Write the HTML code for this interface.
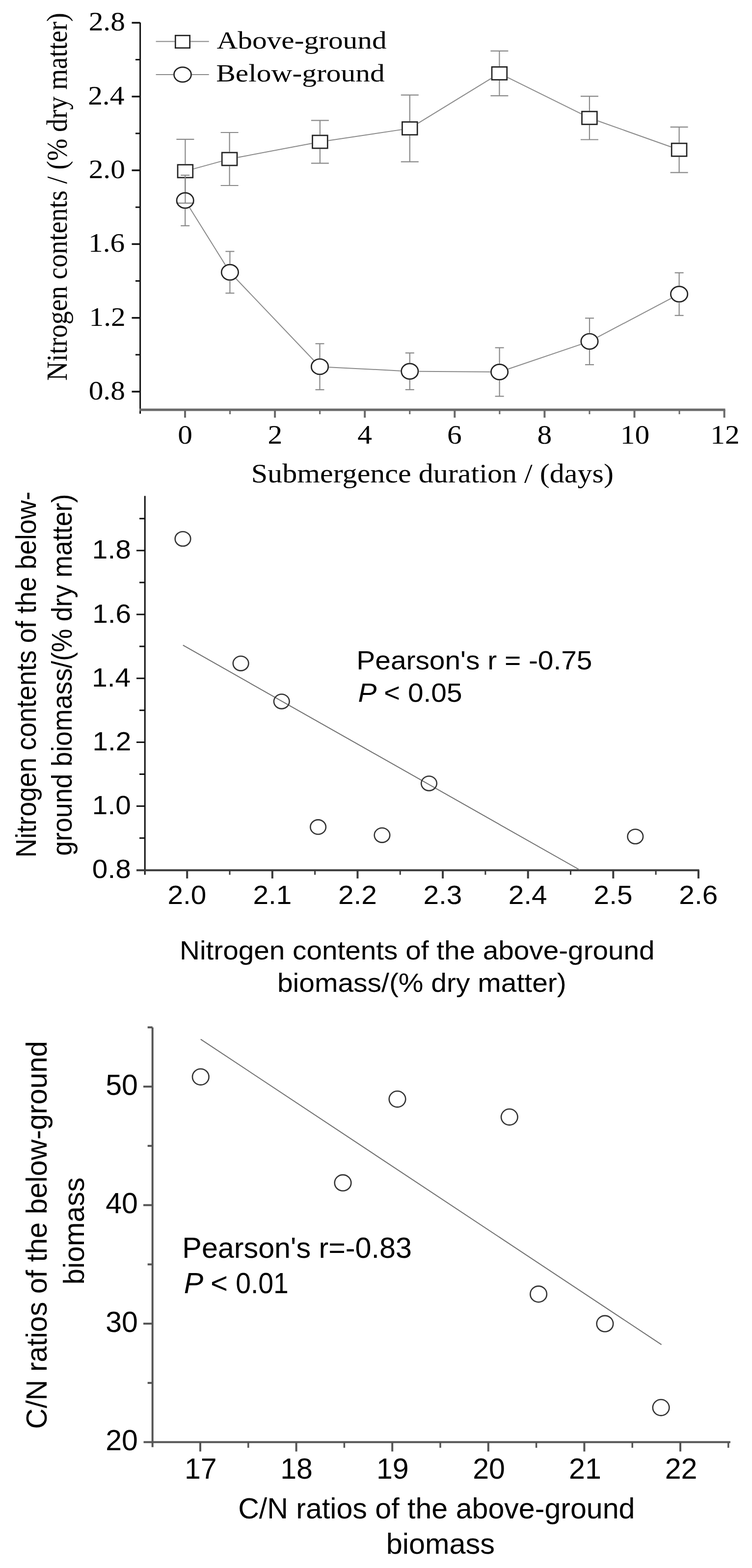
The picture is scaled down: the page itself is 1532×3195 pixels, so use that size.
<!DOCTYPE html>
<html><head><meta charset="utf-8"><title>Nitrogen contents figure</title>
<style>html,body{margin:0;padding:0;background:#fff;} svg{display:block;} text{fill:#000;}</style>
</head><body>
<svg width="1532" height="3195" viewBox="0 0 1532 3195">
<rect width="1532" height="3195" fill="#fff"/>
<line x1="285.60" y1="46.00" x2="285.60" y2="843.00" stroke="#111" stroke-width="3"/>
<line x1="284.10" y1="835.00" x2="1477.50" y2="835.00" stroke="#6a6a6a" stroke-width="5"/>
<line x1="268.50" y1="46.40" x2="285.60" y2="46.40" stroke="#111" stroke-width="3.5"/>
<text transform="translate(180.63,62.40) scale(1.1000,1)" style="font-family:'Liberation Serif', serif;font-size:54px">2.8</text>
<line x1="268.50" y1="196.72" x2="285.60" y2="196.72" stroke="#111" stroke-width="3.5"/>
<text transform="translate(179.14,212.72) scale(1.1000,1)" style="font-family:'Liberation Serif', serif;font-size:54px">2.4</text>
<line x1="268.50" y1="347.04" x2="285.60" y2="347.04" stroke="#111" stroke-width="3.5"/>
<text transform="translate(180.63,363.04) scale(1.1000,1)" style="font-family:'Liberation Serif', serif;font-size:54px">2.0</text>
<line x1="268.50" y1="497.36" x2="285.60" y2="497.36" stroke="#111" stroke-width="3.5"/>
<text transform="translate(180.03,513.36) scale(1.1000,1)" style="font-family:'Liberation Serif', serif;font-size:54px">1.6</text>
<line x1="268.50" y1="647.68" x2="285.60" y2="647.68" stroke="#111" stroke-width="3.5"/>
<text transform="translate(181.52,663.68) scale(1.1000,1)" style="font-family:'Liberation Serif', serif;font-size:54px">1.2</text>
<line x1="268.50" y1="798.00" x2="285.60" y2="798.00" stroke="#111" stroke-width="3.5"/>
<text transform="translate(180.63,814.00) scale(1.1000,1)" style="font-family:'Liberation Serif', serif;font-size:54px">0.8</text>
<line x1="276.00" y1="121.56" x2="285.60" y2="121.56" stroke="#111" stroke-width="3"/>
<line x1="276.00" y1="271.88" x2="285.60" y2="271.88" stroke="#111" stroke-width="3"/>
<line x1="276.00" y1="422.20" x2="285.60" y2="422.20" stroke="#111" stroke-width="3"/>
<line x1="276.00" y1="572.52" x2="285.60" y2="572.52" stroke="#111" stroke-width="3"/>
<line x1="276.00" y1="722.84" x2="285.60" y2="722.84" stroke="#111" stroke-width="3"/>
<line x1="377.00" y1="835.00" x2="377.00" y2="851.00" stroke="#6a6a6a" stroke-width="4"/>
<text transform="translate(362.15,904.00) scale(1.1000,1)" style="font-family:'Liberation Serif', serif;font-size:54px">0</text>
<line x1="468.55" y1="835.00" x2="468.55" y2="844.00" stroke="#6a6a6a" stroke-width="3"/>
<line x1="560.10" y1="835.00" x2="560.10" y2="851.00" stroke="#6a6a6a" stroke-width="4"/>
<text transform="translate(545.55,904.00) scale(1.1000,1)" style="font-family:'Liberation Serif', serif;font-size:54px">2</text>
<line x1="651.65" y1="835.00" x2="651.65" y2="844.00" stroke="#6a6a6a" stroke-width="3"/>
<line x1="743.20" y1="835.00" x2="743.20" y2="851.00" stroke="#6a6a6a" stroke-width="4"/>
<text transform="translate(728.20,904.00) scale(1.1000,1)" style="font-family:'Liberation Serif', serif;font-size:54px">4</text>
<line x1="834.75" y1="835.00" x2="834.75" y2="844.00" stroke="#6a6a6a" stroke-width="3"/>
<line x1="926.30" y1="835.00" x2="926.30" y2="851.00" stroke="#6a6a6a" stroke-width="4"/>
<text transform="translate(911.00,904.00) scale(1.1000,1)" style="font-family:'Liberation Serif', serif;font-size:54px">6</text>
<line x1="1017.85" y1="835.00" x2="1017.85" y2="844.00" stroke="#6a6a6a" stroke-width="3"/>
<line x1="1109.40" y1="835.00" x2="1109.40" y2="851.00" stroke="#6a6a6a" stroke-width="4"/>
<text transform="translate(1094.55,904.00) scale(1.1000,1)" style="font-family:'Liberation Serif', serif;font-size:54px">8</text>
<line x1="1200.95" y1="835.00" x2="1200.95" y2="844.00" stroke="#6a6a6a" stroke-width="3"/>
<line x1="1292.50" y1="835.00" x2="1292.50" y2="851.00" stroke="#6a6a6a" stroke-width="4"/>
<text transform="translate(1263.82,904.00) scale(1.1000,1)" style="font-family:'Liberation Serif', serif;font-size:54px">10</text>
<line x1="1384.05" y1="835.00" x2="1384.05" y2="844.00" stroke="#6a6a6a" stroke-width="3"/>
<line x1="1475.60" y1="835.00" x2="1475.60" y2="851.00" stroke="#6a6a6a" stroke-width="4"/>
<text transform="translate(1447.36,904.00) scale(1.1000,1)" style="font-family:'Liberation Serif', serif;font-size:54px">12</text>
<text transform="translate(511.69,983.00) scale(1.1134,1)" style="font-family:'Liberation Serif', serif;font-size:54px">Submergence duration / (days)</text>
<text transform="translate(136.00,775.83) scale(1.1000,1.0064) rotate(-90)" style="font-family:'Liberation Serif', serif;font-size:54px">Nitrogen contents / (% dry matter)</text>
<line x1="394.30" y1="344.15" x2="450.70" y2="328.65" stroke="#8a8a8a" stroke-width="2.0"/>
<line x1="484.50" y1="320.79" x2="635.00" y2="292.21" stroke="#8a8a8a" stroke-width="2.0"/>
<line x1="668.80" y1="286.47" x2="817.90" y2="264.13" stroke="#8a8a8a" stroke-width="2.0"/>
<line x1="851.70" y1="251.22" x2="1000.50" y2="159.88" stroke="#8a8a8a" stroke-width="2.0"/>
<line x1="1034.30" y1="157.86" x2="1184.00" y2="231.94" stroke="#8a8a8a" stroke-width="2.0"/>
<line x1="1217.80" y1="246.30" x2="1366.70" y2="299.20" stroke="#8a8a8a" stroke-width="2.0"/>
<line x1="377.40" y1="334.20" x2="377.40" y2="283.80" stroke="#8a8a8a" stroke-width="2.2"/>
<line x1="377.40" y1="363.40" x2="377.40" y2="413.80" stroke="#8a8a8a" stroke-width="2.2"/>
<line x1="359.40" y1="283.80" x2="395.40" y2="283.80" stroke="#8a8a8a" stroke-width="2.2"/>
<line x1="359.40" y1="413.80" x2="395.40" y2="413.80" stroke="#8a8a8a" stroke-width="2.2"/>
<line x1="467.60" y1="309.40" x2="467.60" y2="270.00" stroke="#8a8a8a" stroke-width="2.2"/>
<line x1="467.60" y1="338.60" x2="467.60" y2="378.00" stroke="#8a8a8a" stroke-width="2.2"/>
<line x1="449.60" y1="270.00" x2="485.60" y2="270.00" stroke="#8a8a8a" stroke-width="2.2"/>
<line x1="449.60" y1="378.00" x2="485.60" y2="378.00" stroke="#8a8a8a" stroke-width="2.2"/>
<line x1="651.90" y1="274.40" x2="651.90" y2="245.30" stroke="#8a8a8a" stroke-width="2.2"/>
<line x1="651.90" y1="303.60" x2="651.90" y2="332.70" stroke="#8a8a8a" stroke-width="2.2"/>
<line x1="633.90" y1="245.30" x2="669.90" y2="245.30" stroke="#8a8a8a" stroke-width="2.2"/>
<line x1="633.90" y1="332.70" x2="669.90" y2="332.70" stroke="#8a8a8a" stroke-width="2.2"/>
<line x1="834.80" y1="247.00" x2="834.80" y2="193.60" stroke="#8a8a8a" stroke-width="2.2"/>
<line x1="834.80" y1="276.20" x2="834.80" y2="329.60" stroke="#8a8a8a" stroke-width="2.2"/>
<line x1="816.80" y1="193.60" x2="852.80" y2="193.60" stroke="#8a8a8a" stroke-width="2.2"/>
<line x1="816.80" y1="329.60" x2="852.80" y2="329.60" stroke="#8a8a8a" stroke-width="2.2"/>
<line x1="1017.40" y1="134.90" x2="1017.40" y2="103.90" stroke="#8a8a8a" stroke-width="2.2"/>
<line x1="1017.40" y1="164.10" x2="1017.40" y2="195.10" stroke="#8a8a8a" stroke-width="2.2"/>
<line x1="999.40" y1="103.90" x2="1035.40" y2="103.90" stroke="#8a8a8a" stroke-width="2.2"/>
<line x1="999.40" y1="195.10" x2="1035.40" y2="195.10" stroke="#8a8a8a" stroke-width="2.2"/>
<line x1="1200.90" y1="225.70" x2="1200.90" y2="196.10" stroke="#8a8a8a" stroke-width="2.2"/>
<line x1="1200.90" y1="254.90" x2="1200.90" y2="284.50" stroke="#8a8a8a" stroke-width="2.2"/>
<line x1="1182.90" y1="196.10" x2="1218.90" y2="196.10" stroke="#8a8a8a" stroke-width="2.2"/>
<line x1="1182.90" y1="284.50" x2="1218.90" y2="284.50" stroke="#8a8a8a" stroke-width="2.2"/>
<line x1="1383.60" y1="290.60" x2="1383.60" y2="258.80" stroke="#8a8a8a" stroke-width="2.2"/>
<line x1="1383.60" y1="319.80" x2="1383.60" y2="351.60" stroke="#8a8a8a" stroke-width="2.2"/>
<line x1="1365.60" y1="258.80" x2="1401.60" y2="258.80" stroke="#8a8a8a" stroke-width="2.2"/>
<line x1="1365.60" y1="351.60" x2="1401.60" y2="351.60" stroke="#8a8a8a" stroke-width="2.2"/>
<rect x="362.00" y="335.70" width="30.80" height="26.20" fill="none" stroke="#222" stroke-width="2.7"/>
<rect x="452.20" y="310.90" width="30.80" height="26.20" fill="none" stroke="#222" stroke-width="2.7"/>
<rect x="636.50" y="275.90" width="30.80" height="26.20" fill="none" stroke="#222" stroke-width="2.7"/>
<rect x="819.40" y="248.50" width="30.80" height="26.20" fill="none" stroke="#222" stroke-width="2.7"/>
<rect x="1002.00" y="136.40" width="30.80" height="26.20" fill="none" stroke="#222" stroke-width="2.7"/>
<rect x="1185.50" y="227.20" width="30.80" height="26.20" fill="none" stroke="#222" stroke-width="2.7"/>
<rect x="1368.20" y="292.10" width="30.80" height="26.20" fill="none" stroke="#222" stroke-width="2.7"/>
<line x1="386.50" y1="423.42" x2="459.10" y2="539.88" stroke="#8a8a8a" stroke-width="2.0"/>
<line x1="480.72" y1="567.74" x2="639.18" y2="734.26" stroke="#8a8a8a" stroke-width="2.0"/>
<line x1="670.17" y1="748.16" x2="816.13" y2="755.64" stroke="#8a8a8a" stroke-width="2.0"/>
<line x1="853.50" y1="756.74" x2="998.90" y2="757.86" stroke="#8a8a8a" stroke-width="2.0"/>
<line x1="1035.14" y1="752.04" x2="1183.46" y2="701.66" stroke="#8a8a8a" stroke-width="2.0"/>
<line x1="1217.22" y1="687.14" x2="1367.38" y2="607.86" stroke="#8a8a8a" stroke-width="2.0"/>
<line x1="377.20" y1="391.30" x2="377.20" y2="357.00" stroke="#8a8a8a" stroke-width="2.2"/>
<line x1="377.20" y1="425.70" x2="377.20" y2="460.00" stroke="#8a8a8a" stroke-width="2.2"/>
<line x1="368.20" y1="357.00" x2="386.20" y2="357.00" stroke="#8a8a8a" stroke-width="2.2"/>
<line x1="368.20" y1="460.00" x2="386.20" y2="460.00" stroke="#8a8a8a" stroke-width="2.2"/>
<line x1="468.40" y1="537.60" x2="468.40" y2="512.30" stroke="#8a8a8a" stroke-width="2.2"/>
<line x1="468.40" y1="572.00" x2="468.40" y2="597.30" stroke="#8a8a8a" stroke-width="2.2"/>
<line x1="459.40" y1="512.30" x2="477.40" y2="512.30" stroke="#8a8a8a" stroke-width="2.2"/>
<line x1="459.40" y1="597.30" x2="477.40" y2="597.30" stroke="#8a8a8a" stroke-width="2.2"/>
<line x1="651.50" y1="730.00" x2="651.50" y2="700.30" stroke="#8a8a8a" stroke-width="2.2"/>
<line x1="651.50" y1="764.40" x2="651.50" y2="794.10" stroke="#8a8a8a" stroke-width="2.2"/>
<line x1="642.50" y1="700.30" x2="660.50" y2="700.30" stroke="#8a8a8a" stroke-width="2.2"/>
<line x1="642.50" y1="794.10" x2="660.50" y2="794.10" stroke="#8a8a8a" stroke-width="2.2"/>
<line x1="834.80" y1="739.40" x2="834.80" y2="719.20" stroke="#8a8a8a" stroke-width="2.2"/>
<line x1="834.80" y1="773.80" x2="834.80" y2="794.00" stroke="#8a8a8a" stroke-width="2.2"/>
<line x1="825.80" y1="719.20" x2="843.80" y2="719.20" stroke="#8a8a8a" stroke-width="2.2"/>
<line x1="825.80" y1="794.00" x2="843.80" y2="794.00" stroke="#8a8a8a" stroke-width="2.2"/>
<line x1="1017.60" y1="740.80" x2="1017.60" y2="708.50" stroke="#8a8a8a" stroke-width="2.2"/>
<line x1="1017.60" y1="775.20" x2="1017.60" y2="807.50" stroke="#8a8a8a" stroke-width="2.2"/>
<line x1="1008.60" y1="708.50" x2="1026.60" y2="708.50" stroke="#8a8a8a" stroke-width="2.2"/>
<line x1="1008.60" y1="807.50" x2="1026.60" y2="807.50" stroke="#8a8a8a" stroke-width="2.2"/>
<line x1="1201.00" y1="678.50" x2="1201.00" y2="648.30" stroke="#8a8a8a" stroke-width="2.2"/>
<line x1="1201.00" y1="712.90" x2="1201.00" y2="743.10" stroke="#8a8a8a" stroke-width="2.2"/>
<line x1="1192.00" y1="648.30" x2="1210.00" y2="648.30" stroke="#8a8a8a" stroke-width="2.2"/>
<line x1="1192.00" y1="743.10" x2="1210.00" y2="743.10" stroke="#8a8a8a" stroke-width="2.2"/>
<line x1="1383.60" y1="582.10" x2="1383.60" y2="555.80" stroke="#8a8a8a" stroke-width="2.2"/>
<line x1="1383.60" y1="616.50" x2="1383.60" y2="642.80" stroke="#8a8a8a" stroke-width="2.2"/>
<line x1="1374.60" y1="555.80" x2="1392.60" y2="555.80" stroke="#8a8a8a" stroke-width="2.2"/>
<line x1="1374.60" y1="642.80" x2="1392.60" y2="642.80" stroke="#8a8a8a" stroke-width="2.2"/>
<ellipse cx="377.20" cy="408.50" rx="17.20" ry="15.70" fill="none" stroke="#222" stroke-width="2.7"/>
<ellipse cx="468.40" cy="554.80" rx="17.20" ry="15.70" fill="none" stroke="#222" stroke-width="2.7"/>
<ellipse cx="651.50" cy="747.20" rx="17.20" ry="15.70" fill="none" stroke="#222" stroke-width="2.7"/>
<ellipse cx="834.80" cy="756.60" rx="17.20" ry="15.70" fill="none" stroke="#222" stroke-width="2.7"/>
<ellipse cx="1017.60" cy="758.00" rx="17.20" ry="15.70" fill="none" stroke="#222" stroke-width="2.7"/>
<ellipse cx="1201.00" cy="695.70" rx="17.20" ry="15.70" fill="none" stroke="#222" stroke-width="2.7"/>
<ellipse cx="1383.60" cy="599.30" rx="17.20" ry="15.70" fill="none" stroke="#222" stroke-width="2.7"/>
<line x1="317.60" y1="84.50" x2="355.80" y2="84.50" stroke="#8a8a8a" stroke-width="2.2"/>
<line x1="388.20" y1="84.50" x2="425.70" y2="84.50" stroke="#8a8a8a" stroke-width="2.2"/>
<rect x="357.30" y="72.30" width="29.40" height="25.40" fill="none" stroke="#222" stroke-width="2.7"/>
<line x1="317.60" y1="152.00" x2="353.00" y2="152.00" stroke="#8a8a8a" stroke-width="2.2"/>
<line x1="391.00" y1="152.00" x2="425.70" y2="152.00" stroke="#8a8a8a" stroke-width="2.2"/>
<ellipse cx="372" cy="152" rx="17.50" ry="15.10" fill="none" stroke="#222" stroke-width="2.7"/>
<text transform="translate(441.41,99.00) scale(1.1530,1)" style="font-family:'Liberation Serif', serif;font-size:51.5px">Above-ground</text>
<text transform="translate(440.22,166.20) scale(1.1546,1)" style="font-family:'Liberation Serif', serif;font-size:51.5px">Below-ground</text>
<line x1="295.20" y1="1010.60" x2="295.20" y2="1782.50" stroke="#111" stroke-width="3"/>
<line x1="278.00" y1="1773.30" x2="1424.50" y2="1773.30" stroke="#3a3a3a" stroke-width="4"/>
<text transform="translate(187.85,1789.30) scale(1.0500,1)" style="font-family:'Liberation Sans', sans-serif;font-size:54px">0.8</text>
<line x1="278.00" y1="1642.60" x2="295.20" y2="1642.60" stroke="#111" stroke-width="3"/>
<text transform="translate(187.85,1659.10) scale(1.0500,1)" style="font-family:'Liberation Sans', sans-serif;font-size:54px">1.0</text>
<line x1="278.00" y1="1512.40" x2="295.20" y2="1512.40" stroke="#111" stroke-width="3"/>
<text transform="translate(188.42,1528.90) scale(1.0500,1)" style="font-family:'Liberation Sans', sans-serif;font-size:54px">1.2</text>
<line x1="278.00" y1="1382.20" x2="295.20" y2="1382.20" stroke="#111" stroke-width="3"/>
<text transform="translate(187.29,1398.70) scale(1.0500,1)" style="font-family:'Liberation Sans', sans-serif;font-size:54px">1.4</text>
<line x1="278.00" y1="1252.00" x2="295.20" y2="1252.00" stroke="#111" stroke-width="3"/>
<text transform="translate(188.14,1268.50) scale(1.0500,1)" style="font-family:'Liberation Sans', sans-serif;font-size:54px">1.6</text>
<line x1="278.00" y1="1121.80" x2="295.20" y2="1121.80" stroke="#111" stroke-width="3"/>
<text transform="translate(187.85,1138.30) scale(1.0500,1)" style="font-family:'Liberation Sans', sans-serif;font-size:54px">1.8</text>
<line x1="284.00" y1="1707.70" x2="295.20" y2="1707.70" stroke="#111" stroke-width="3"/>
<line x1="284.00" y1="1577.50" x2="295.20" y2="1577.50" stroke="#111" stroke-width="3"/>
<line x1="284.00" y1="1447.30" x2="295.20" y2="1447.30" stroke="#111" stroke-width="3"/>
<line x1="284.00" y1="1317.10" x2="295.20" y2="1317.10" stroke="#111" stroke-width="3"/>
<line x1="284.00" y1="1186.90" x2="295.20" y2="1186.90" stroke="#111" stroke-width="3"/>
<line x1="284.00" y1="1056.70" x2="295.20" y2="1056.70" stroke="#111" stroke-width="3"/>
<line x1="381.20" y1="1773.30" x2="381.20" y2="1790.00" stroke="#3a3a3a" stroke-width="4"/>
<text transform="translate(341.51,1842.00) scale(1.0500,1)" style="font-family:'Liberation Sans', sans-serif;font-size:54px">2.0</text>
<line x1="554.82" y1="1773.30" x2="554.82" y2="1790.00" stroke="#3a3a3a" stroke-width="4"/>
<text transform="translate(515.41,1842.00) scale(1.0500,1)" style="font-family:'Liberation Sans', sans-serif;font-size:54px">2.1</text>
<line x1="728.44" y1="1773.30" x2="728.44" y2="1790.00" stroke="#3a3a3a" stroke-width="4"/>
<text transform="translate(689.03,1842.00) scale(1.0500,1)" style="font-family:'Liberation Sans', sans-serif;font-size:54px">2.2</text>
<line x1="902.06" y1="1773.30" x2="902.06" y2="1790.00" stroke="#3a3a3a" stroke-width="4"/>
<text transform="translate(862.51,1842.00) scale(1.0500,1)" style="font-family:'Liberation Sans', sans-serif;font-size:54px">2.3</text>
<line x1="1075.68" y1="1773.30" x2="1075.68" y2="1790.00" stroke="#3a3a3a" stroke-width="4"/>
<text transform="translate(1035.71,1842.00) scale(1.0500,1)" style="font-family:'Liberation Sans', sans-serif;font-size:54px">2.4</text>
<line x1="1249.30" y1="1773.30" x2="1249.30" y2="1790.00" stroke="#3a3a3a" stroke-width="4"/>
<text transform="translate(1209.61,1842.00) scale(1.0500,1)" style="font-family:'Liberation Sans', sans-serif;font-size:54px">2.5</text>
<line x1="1422.92" y1="1773.30" x2="1422.92" y2="1790.00" stroke="#3a3a3a" stroke-width="4"/>
<text transform="translate(1383.37,1842.00) scale(1.0500,1)" style="font-family:'Liberation Sans', sans-serif;font-size:54px">2.6</text>
<line x1="468.01" y1="1773.30" x2="468.01" y2="1782.50" stroke="#3a3a3a" stroke-width="3"/>
<line x1="641.63" y1="1773.30" x2="641.63" y2="1782.50" stroke="#3a3a3a" stroke-width="3"/>
<line x1="815.25" y1="1773.30" x2="815.25" y2="1782.50" stroke="#3a3a3a" stroke-width="3"/>
<line x1="988.87" y1="1773.30" x2="988.87" y2="1782.50" stroke="#3a3a3a" stroke-width="3"/>
<line x1="1162.49" y1="1773.30" x2="1162.49" y2="1782.50" stroke="#3a3a3a" stroke-width="3"/>
<line x1="1336.11" y1="1773.30" x2="1336.11" y2="1782.50" stroke="#3a3a3a" stroke-width="3"/>
<text transform="translate(366.06,1955.30) scale(1.0500,1)" style="font-family:'Liberation Sans', sans-serif;font-size:54px">Nitrogen contents of the above-ground</text>
<text transform="translate(564.90,2021.00) scale(1.0554,1)" style="font-family:'Liberation Sans', sans-serif;font-size:54px">biomass/(% dry matter)</text>
<text transform="translate(72.60,1747.61) scale(1.0500,0.9985) rotate(-90)" style="font-family:'Liberation Sans', sans-serif;font-size:54px">Nitrogen contents of the below-</text>
<text transform="translate(145.50,1743.85) scale(1.0500,0.9946) rotate(-90)" style="font-family:'Liberation Sans', sans-serif;font-size:54px">ground biomass/(% dry matter)</text>
<line x1="372.80" y1="1314.70" x2="1181.00" y2="1772.50" stroke="#6e6e6e" stroke-width="2"/>
<ellipse cx="372.5" cy="1098" rx="15.8" ry="14.8" fill="none" stroke="#333" stroke-width="2.6"/>
<ellipse cx="490.6" cy="1351.8" rx="15.8" ry="14.8" fill="none" stroke="#333" stroke-width="2.6"/>
<ellipse cx="573.7" cy="1429.3" rx="15.8" ry="14.8" fill="none" stroke="#333" stroke-width="2.6"/>
<ellipse cx="648.1" cy="1685.2" rx="15.8" ry="14.8" fill="none" stroke="#333" stroke-width="2.6"/>
<ellipse cx="778.4" cy="1701.8" rx="15.8" ry="14.8" fill="none" stroke="#333" stroke-width="2.6"/>
<ellipse cx="874" cy="1596.3" rx="15.8" ry="14.8" fill="none" stroke="#333" stroke-width="2.6"/>
<ellipse cx="1294.3" cy="1704.5" rx="15.8" ry="14.8" fill="none" stroke="#333" stroke-width="2.6"/>
<text transform="translate(726.35,1364.40) scale(1.0531,1)" style="font-family:'Liberation Sans', sans-serif;font-size:54px">Pearson's r = -0.75</text>
<text transform="translate(729.60,1429.60) scale(1.0500,1)" style="font-family:'Liberation Sans', sans-serif;font-size:54px;font-style:italic">P</text>
<text transform="translate(782.30,1429.60) scale(1.0386,1)" style="font-family:'Liberation Sans', sans-serif;font-size:54px">&lt;</text>
<text transform="translate(831.03,1429.60) scale(1.0515,1)" style="font-family:'Liberation Sans', sans-serif;font-size:54px">0.05</text>
<line x1="310.70" y1="2093.50" x2="310.70" y2="2948.70" stroke="#555" stroke-width="4"/>
<line x1="292.50" y1="2938.60" x2="1488.00" y2="2938.60" stroke="#555" stroke-width="4"/>
<text transform="translate(215.18,2955.40) scale(1.0100,1)" style="font-family:'Liberation Sans', sans-serif;font-size:58.5px">20</text>
<line x1="292.00" y1="2697.10" x2="310.70" y2="2697.10" stroke="#555" stroke-width="4"/>
<text transform="translate(215.18,2713.90) scale(1.0100,1)" style="font-family:'Liberation Sans', sans-serif;font-size:58.5px">30</text>
<line x1="292.00" y1="2455.60" x2="310.70" y2="2455.60" stroke="#555" stroke-width="4"/>
<text transform="translate(215.18,2472.40) scale(1.0100,1)" style="font-family:'Liberation Sans', sans-serif;font-size:58.5px">40</text>
<line x1="292.00" y1="2214.10" x2="310.70" y2="2214.10" stroke="#555" stroke-width="4"/>
<text transform="translate(215.18,2230.90) scale(1.0100,1)" style="font-family:'Liberation Sans', sans-serif;font-size:58.5px">50</text>
<line x1="300.70" y1="2817.85" x2="310.70" y2="2817.85" stroke="#555" stroke-width="4"/>
<line x1="300.70" y1="2576.35" x2="310.70" y2="2576.35" stroke="#555" stroke-width="4"/>
<line x1="300.70" y1="2334.85" x2="310.70" y2="2334.85" stroke="#555" stroke-width="4"/>
<line x1="300.70" y1="2093.35" x2="310.70" y2="2093.35" stroke="#555" stroke-width="4"/>
<line x1="408.00" y1="2938.60" x2="408.00" y2="2957.60" stroke="#555" stroke-width="4"/>
<text transform="translate(375.97,3013.20) scale(1.0100,1)" style="font-family:'Liberation Sans', sans-serif;font-size:58.5px">17</text>
<line x1="603.60" y1="2938.60" x2="603.60" y2="2957.60" stroke="#555" stroke-width="4"/>
<text transform="translate(571.27,3013.20) scale(1.0100,1)" style="font-family:'Liberation Sans', sans-serif;font-size:58.5px">18</text>
<line x1="799.20" y1="2938.60" x2="799.20" y2="2957.60" stroke="#555" stroke-width="4"/>
<text transform="translate(767.02,3013.20) scale(1.0100,1)" style="font-family:'Liberation Sans', sans-serif;font-size:58.5px">19</text>
<line x1="994.80" y1="2938.60" x2="994.80" y2="2957.60" stroke="#555" stroke-width="4"/>
<text transform="translate(963.21,3013.20) scale(1.0100,1)" style="font-family:'Liberation Sans', sans-serif;font-size:58.5px">20</text>
<line x1="1190.40" y1="2938.60" x2="1190.40" y2="2957.60" stroke="#555" stroke-width="4"/>
<text transform="translate(1159.11,3013.20) scale(1.0100,1)" style="font-family:'Liberation Sans', sans-serif;font-size:58.5px">21</text>
<line x1="1386.00" y1="2938.60" x2="1386.00" y2="2957.60" stroke="#555" stroke-width="4"/>
<text transform="translate(1354.71,3013.20) scale(1.0100,1)" style="font-family:'Liberation Sans', sans-serif;font-size:58.5px">22</text>
<line x1="505.80" y1="2938.60" x2="505.80" y2="2950.00" stroke="#555" stroke-width="3.5"/>
<line x1="701.40" y1="2938.60" x2="701.40" y2="2950.00" stroke="#555" stroke-width="3.5"/>
<line x1="897.00" y1="2938.60" x2="897.00" y2="2950.00" stroke="#555" stroke-width="3.5"/>
<line x1="1092.60" y1="2938.60" x2="1092.60" y2="2950.00" stroke="#555" stroke-width="3.5"/>
<line x1="1288.20" y1="2938.60" x2="1288.20" y2="2950.00" stroke="#555" stroke-width="3.5"/>
<line x1="1483.80" y1="2938.60" x2="1483.80" y2="2950.00" stroke="#555" stroke-width="3.5"/>
<text transform="translate(485.14,3094.10) scale(1.0109,1)" style="font-family:'Liberation Sans', sans-serif;font-size:58.5px">C/N ratios of the above-ground</text>
<text transform="translate(786.84,3165.60) scale(1.0153,1)" style="font-family:'Liberation Sans', sans-serif;font-size:58.5px">biomass</text>
<text transform="translate(94.90,2911.72) scale(1.0100,0.9968) rotate(-90)" style="font-family:'Liberation Sans', sans-serif;font-size:58.5px">C/N ratios of the below-ground</text>
<text transform="translate(171.00,2617.41) scale(1.0100,1.0016) rotate(-90)" style="font-family:'Liberation Sans', sans-serif;font-size:58.5px">biomass</text>
<line x1="408.80" y1="2117.60" x2="1347.60" y2="2739.80" stroke="#6e6e6e" stroke-width="2"/>
<ellipse cx="408.8" cy="2194.3" rx="16.8" ry="16.3" fill="none" stroke="#333" stroke-width="2.6"/>
<ellipse cx="698.5" cy="2410.2" rx="16.8" ry="16.3" fill="none" stroke="#333" stroke-width="2.6"/>
<ellipse cx="809.5" cy="2239.6" rx="16.8" ry="16.3" fill="none" stroke="#333" stroke-width="2.6"/>
<ellipse cx="1037.8" cy="2276.1" rx="16.8" ry="16.3" fill="none" stroke="#333" stroke-width="2.6"/>
<ellipse cx="1097.1" cy="2636.9" rx="16.8" ry="16.3" fill="none" stroke="#333" stroke-width="2.6"/>
<ellipse cx="1232.4" cy="2697.2" rx="16.8" ry="16.3" fill="none" stroke="#333" stroke-width="2.6"/>
<ellipse cx="1346.6" cy="2868.1" rx="16.8" ry="16.3" fill="none" stroke="#333" stroke-width="2.6"/>
<text transform="translate(371.36,2563.40) scale(1.0131,1)" style="font-family:'Liberation Sans', sans-serif;font-size:58.5px">Pearson's r=-0.83</text>
<text transform="translate(374.73,2635.00) scale(1.0100,1)" style="font-family:'Liberation Sans', sans-serif;font-size:58.5px;font-style:italic">P</text>
<text transform="translate(428.90,2635.00) scale(1.0256,1)" style="font-family:'Liberation Sans', sans-serif;font-size:58.5px">&lt;</text>
<text transform="translate(480.19,2635.00) scale(0.9455,1)" style="font-family:'Liberation Sans', sans-serif;font-size:58.5px">0.01</text>
</svg>
</body></html>
